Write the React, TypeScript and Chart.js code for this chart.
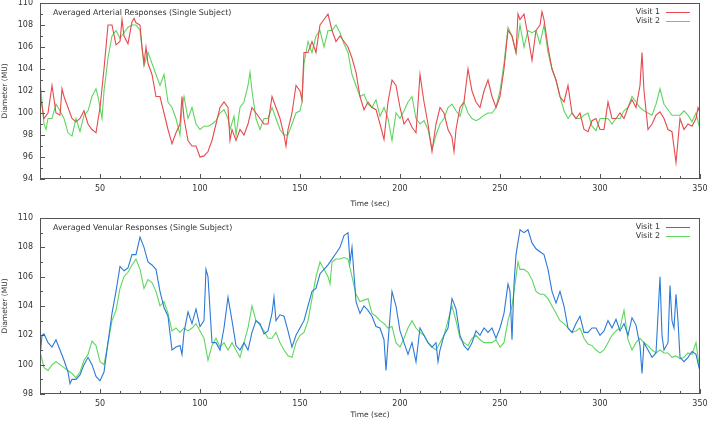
import React, { useEffect, useRef } from 'react';
import { Chart, registerables } from 'chart.js';

Chart.register(...registerables);

// ---------- Tick labels ----------
const xTickValues = [50, 100, 150, 200, 250, 300, 350];
const arterialYTicks = [94, 96, 98, 100, 102, 104, 106, 108, 110];
const venularYTicks = [98, 100, 102, 104, 106, 108, 110];

// ---------- Arterial, Visit 1 ----------
const artV1Time = [20,22,24,26,28,30,31,32,34,36,38,40,42,44,46,48,50,52,54,56,58,60,61,62,64,66,67,68,70,71,72,73,74,76,78,80,82,84,86,88,90,91,92,94,96,98,100,102,104,106,108,110,112,114,115,116,118,120,122,124,126,128,130,132,134,136,138,140,142,143,144,146,148,150,151,152,154,156,158,160,162,164,166,168,170,172,174,176,178,180,182,184,186,188,190,192,194,196,198,200,202,204,206,208,210,212,214,216,218,220,222,224,226,227,228,230,232,234,236,238,240,242,244,246,248,250,252,254,256,258,259,260,262,264,266,268,270,271,272,274,276,278,280,282,284,286,288,290,292,294,296,298,300,302,304,306,308,310,312,314,316,318,320,321,322,324,326,328,330,332,334,336,338,339,340,342,344,346,348,349,350];
const artV1Values = [101.7,99.5,100,102.5,100,99.8,102.2,101.5,100.5,99.5,99.2,99.5,100.2,99,98.5,98.2,100.5,104,108,108,106.2,106.5,108.5,107,106.3,108.3,108.6,108.2,108,106,104.5,106,104.5,103.5,101.5,101.5,100,98.5,97.2,98.2,99,101.5,99.5,97.5,97,97,96,96.1,96.5,97.5,99,100.5,101,100.5,97.5,98.5,97.5,98.5,98,99,100.5,100,99.5,99,99,101.5,100.5,99.5,98,97,98.5,100,102.5,102,101.2,105.5,105.5,106.5,105.5,108,108.5,109,107.5,106.5,107,106.5,106,105,103.7,101.5,100.3,101,100.5,100.3,99,97.6,101,103,102.5,100.5,99,99.5,98.7,98.2,103.5,101,99,96.5,99,100.5,100,98.5,97.8,96.5,98.5,100.5,101,104,102,101,100.5,102,103,101.5,100.5,101.5,104,107.5,107,105.5,109,108.5,109,107,104.8,107.5,108,109.2,108.5,106,104,103,101.5,101,102.5,100,99.5,100,98.5,98.3,99.3,99.5,98.5,98.5,101,99.5,99.5,100,99.5,100.5,101.2,100.5,102.5,105.5,102,98.5,99,99.8,100.1,99.5,98.5,98.3,95.5,97.5,99.5,98.5,99,98.8,99.5,100.5,100];

// ---------- Arterial, Visit 2 ----------
const artV2Time = [20,21,22,23,24,26,28,30,32,34,36,38,40,42,44,46,48,49,50,51,52,54,56,58,60,62,64,66,68,70,72,74,76,78,80,82,84,86,88,90,91,92,94,96,98,100,102,104,106,108,110,112,114,115,117,118,120,122,124,125,126,128,130,132,134,136,138,140,142,144,146,148,150,151,152,154,156,158,160,162,164,166,168,170,172,174,176,178,180,182,184,186,188,190,192,194,196,198,200,202,204,206,208,210,212,214,216,218,220,222,224,226,228,230,232,234,236,238,240,242,244,246,248,250,252,254,256,258,260,262,264,266,268,270,272,274,276,278,280,282,284,286,288,290,292,294,296,298,300,302,304,306,308,310,312,314,316,318,320,322,324,326,328,330,332,334,336,338,340,342,344,346,348,350];
const artV2Values = [103,101,99,98.5,99.5,99.5,100.8,100.2,99.5,98.2,97.9,99.5,98.3,99.8,100.2,101.5,102.2,101.5,100.5,99.5,102,105,107,107.5,106.8,107.3,107.8,108,108,107.5,104.3,105.5,104.5,103.5,102.5,103.5,101,100.5,99.5,98,100.5,101.5,99.5,100.5,99,98.5,98.8,98.8,99,99.3,100,100.3,99.5,98.5,99.7,98,100.5,101,102.5,103.7,102,99.5,98.5,99.5,99.5,100.5,99.5,98.5,98,98,99,100,100.2,101,104.5,106.5,105.5,107,107.5,106,107.5,107.5,108,107.3,106.3,105.5,103.5,102.5,101.5,101.7,100.8,100.5,101.2,99.7,100.5,99.5,97.5,100,99.5,100.2,101,101.5,99.5,99,99.3,98.5,96.7,98,99,99.5,100.5,100.8,100.2,99.7,101,100,99.5,99.3,99.5,99.8,100,100,100.5,102,104.5,107.8,107,105.5,108,106,107.5,107.3,107.5,106.3,108,105.5,104,103,101.5,100.2,99.5,100,99.5,99.5,99.8,100,98.8,98.4,99.5,99.5,99.5,99,99.5,99.5,100.2,100.5,101.5,101,100.5,100.2,100,99.8,100.8,102.2,100.8,100.3,99.8,99.8,99.8,100.2,99.8,99.2,100,98.5];

// ---------- Venular, Visit 1 ----------
const venV1Time = [20,21,22,24,26,28,30,32,34,35,36,38,40,42,44,46,48,50,52,54,56,58,60,62,64,66,68,70,72,74,76,78,80,82,84,86,88,90,91,92,94,96,98,100,102,103,104,106,108,110,112,114,116,118,120,122,124,126,128,130,132,134,136,137,138,140,142,144,146,148,150,152,154,156,158,160,162,164,166,168,170,172,174,175,176,178,180,182,184,186,188,190,192,193,194,196,198,200,202,204,206,208,210,212,214,216,218,219,220,222,224,226,228,230,232,234,236,238,240,242,244,246,248,250,252,254,255,256,257,258,260,262,264,266,268,270,272,274,276,278,280,282,284,286,288,290,292,294,296,298,300,302,304,306,308,310,312,314,316,318,320,321,322,324,326,328,330,331,332,334,335,336,337,338,339,340,342,344,346,348,350];
const venV1Values = [100.5,102,102.1,101.5,101.2,101.7,101,100.3,99.5,98.7,99,99,99.3,100,100.5,100,99.2,98.9,99.5,101.5,103.5,105,106.7,106.4,106.6,107.5,107.5,108.7,108,107,106.8,106.5,105,103.9,103.3,101,101.2,101.3,100.7,102.2,103.6,102.8,103.8,102.6,103,106.5,106,101.5,101.5,101,102.5,104.6,103,101.3,101,101.5,101,102.2,103,102.8,102.1,102.3,103.5,104.6,103,103.4,103.3,102.3,101.2,102,102.5,103,104,105,105.2,106.2,106.5,106.8,107.2,107.6,108,108.8,109,107,108,104.3,103.5,104,103.7,103.3,102.6,102.5,101.7,99.6,101.5,105,104,102.3,101.5,100.7,101.5,100.2,102.5,102,101.5,101.2,101.5,100.2,101,102,102.5,104.5,103.8,102,101.3,101,101.5,102.3,102,102.5,102.2,102.5,101.8,102.5,103.5,105.5,105,101.7,105.5,107.5,109.2,109,109.2,108.3,107.9,107.7,107.5,106.5,105,104.2,105,104,102.5,102.2,102.8,103.3,102.2,102.2,102.5,102.5,102,102.3,103,102.5,103.1,102.3,102.8,102,103.2,102.7,101.3,99.4,101.5,101,100.5,100.8,106,102,101,101.5,105.4,103,102.5,104.8,103,100.5,100.2,100.5,100.9,100.7,99.5];

// ---------- Venular, Visit 2 ----------
const venV2Time = [20,22,24,26,28,30,32,34,36,38,40,42,44,46,48,50,52,54,56,58,60,62,64,66,68,70,72,74,76,78,80,82,84,86,88,90,92,94,96,98,100,102,104,106,108,110,112,114,116,118,120,122,124,126,128,130,132,134,136,138,140,142,144,146,148,150,152,154,156,158,160,162,164,165,166,168,170,172,174,176,178,180,182,184,186,188,190,192,194,196,198,200,202,204,206,208,210,212,214,216,218,220,222,224,226,228,230,232,234,236,238,240,242,244,246,248,250,252,254,256,258,259,260,262,264,266,268,270,272,274,276,278,280,282,284,286,288,290,292,294,296,298,300,302,304,306,308,310,312,314,316,318,320,322,324,326,328,330,332,334,336,338,340,342,344,346,348,350];
const venV2Values = [100.9,99.8,99.6,100,100.2,100,99.8,99.6,99.4,99.1,99.5,100.3,100.7,101.6,101.3,100.2,100,101.5,103,103.7,105.2,106,106.3,106.8,107.2,106.5,105.2,105.8,105.6,105,104,104.3,103.5,102.3,102.5,102.2,102.5,102.3,102.5,102.8,102.3,101.8,100.3,101.3,101.8,101.2,101.5,101,101.5,101,100.5,101.5,102.5,104,103,102.7,102.3,101.8,101.8,102.2,101.5,101,100.6,100.5,101.5,102,102.2,103,104.5,106,107,106.5,106,105.5,107,107.2,107.2,107.3,107.2,106,104.8,104.3,104.4,104.5,103.5,103.3,103,102.8,102.5,102.6,101.5,101.2,101.8,102.5,103,102.5,102.2,102,101.5,101.2,101,101.5,102,103,104,103,101.8,101.5,101.3,101.8,102,101.7,101.5,101.5,101.5,101.7,101.2,101.5,103,104,106,107,106.5,106.5,106.3,105.8,105,104.8,104.8,104.5,104,103.5,103,102.8,102.5,102.2,102.3,102.5,101.8,101.4,101.3,101,100.8,101,101.5,102,102.3,102.5,103.7,101.7,101,101.5,101.8,101.5,101.3,101,100.8,101,100.8,100.8,100.5,100.6,100.4,100.5,100.8,100.7,101.5,99.5];

const seriesLabels = ['Visit 1', 'Visit 2'];
const RED = '#e6494e';
const GREEN = '#5fd65f';
const BLUE = '#2b7ad6';
const FONT = 'DejaVu Sans';
const TEXT = '#333';
const FRAME = '#555';

const zip = (t: number[], v: number[]) => t.map((x, i) => ({ x, y: v[i] }));

const decoPlugin = {
  id: 'panelDeco',
  afterDatasetsDraw(chart: any, _args: any, opts: any) {
    const { ctx, chartArea } = chart;
    const { left, right, top, bottom } = chartArea;
    const xs = chart.scales.x;
    const ys = chart.scales.y;
    ctx.save();
    ctx.strokeStyle = FRAME;
    ctx.lineWidth = 1;
    ctx.strokeRect(Math.round(left) + 0.5, Math.round(top) + 0.5, Math.round(right - left) - 1, Math.round(bottom - top) - 1);
    ctx.beginPath();
    for (let v = xs.min; v <= xs.max; v += 10) {
      const px = Math.round(xs.getPixelForValue(v)) + 0.5;
      const len = v % 50 === 0 ? 5 : 3;
      ctx.moveTo(px, bottom);
      ctx.lineTo(px, bottom - len);
    }
    for (let v = ys.min; v <= ys.max; v += 1) {
      const py = Math.round(ys.getPixelForValue(v)) + 0.5;
      const len = v % 2 === 0 ? 5 : 3;
      ctx.moveTo(left, py);
      ctx.lineTo(left + len, py);
    }
    ctx.stroke();
    ctx.fillStyle = TEXT;
    ctx.font = `7.9px "${FONT}"`;
    ctx.textBaseline = 'middle';
    ctx.textAlign = 'left';
    ctx.fillText(opts.title, left + 13, top + 9.5);
    chart.data.datasets.forEach((ds: any, i: number) => {
      const y = top + 8.5 + i * 9.5;
      ctx.fillStyle = TEXT;
      ctx.textAlign = 'right';
      ctx.fillText(ds.label, right - 40, y);
      ctx.strokeStyle = ds.borderColor;
      ctx.beginPath();
      ctx.moveTo(right - 34, Math.round(y) + 0.5);
      ctx.lineTo(right - 10, Math.round(y) + 0.5);
      ctx.stroke();
    });
    ctx.restore();
  },
};

type PanelProps = {
  title: string;
  yTicks: number[];
  series: { label: string; color: string; data: { x: number; y: number }[] }[];
  top: number;
  padTop: number;
  xAxisHeight: number;
};

function Panel({ title, yTicks, series, top, padTop, xAxisHeight }: PanelProps) {
  const ref = useRef<HTMLCanvasElement>(null);
  useEffect(() => {
    if (!ref.current) return;
    const font = { family: FONT, size: 8 };
    const chart = new Chart(ref.current, {
      type: 'line',
      data: {
        datasets: series.map((s) => ({
          label: s.label,
          data: s.data,
          borderColor: s.color,
          backgroundColor: s.color,
          borderWidth: 1.1,
          pointRadius: 0,
          tension: 0,
          fill: false,
        })),
      },
      options: {
        responsive: false,
        animation: false,
        parsing: false,
        layout: { padding: { left: 0, right: 9, top: padTop, bottom: 0 } },
        plugins: {
          legend: { display: false },
          tooltip: { enabled: false },
          panelDeco: { title },
        } as any,
        scales: {
          x: {
            type: 'linear',
            min: 20,
            max: 350,
            grid: { display: false, drawTicks: false },
            border: { display: false },
            ticks: { font, color: TEXT, padding: 5, maxRotation: 0, autoSkip: false },
            afterBuildTicks: (s: any) => {
              s.ticks = xTickValues.map((v) => ({ value: v }));
            },
            afterFit: (s: any) => {
              s.height = xAxisHeight;
              s.paddingLeft = 0;
              s.paddingRight = 0;
            },
            title: { display: true, text: 'Time (sec)', font: { family: FONT, size: 7.5 }, color: TEXT, padding: { top: 0, bottom: 2 } },
          },
          y: {
            type: 'linear',
            min: yTicks[0],
            max: yTicks[yTicks.length - 1],
            grid: { display: false, drawTicks: false },
            border: { display: false },
            ticks: { font, color: TEXT, padding: 7, autoSkip: false },
            afterBuildTicks: (s: any) => {
              s.ticks = yTicks.map((v) => ({ value: v }));
            },
            afterFit: (s: any) => {
              s.width = 40;
              s.paddingTop = 0;
              s.paddingBottom = 0;
            },
            title: { display: true, text: 'Diameter (MU)', font: { family: FONT, size: 7.5 }, color: TEXT, padding: { top: 1, bottom: 0 } },
          },
        },
      } as any,
      plugins: [decoPlugin],
    });
    return () => chart.destroy();
  }, []);
  return (
    <canvas
      ref={ref}
      width={709}
      height={211}
      style={{ position: 'absolute', left: 0, top, width: 709, height: 211 }}
    />
  );
}

export default function App() {
  return (
    <div style={{ position: 'fixed', left: 0, top: 0, width: 709, height: 422, background: '#fff' }}>
      <Panel
        title="Averaged Arterial Responses (Single Subject)"
        yTicks={arterialYTicks}
        top={0}
        padTop={3}
        xAxisHeight={32}
        series={[
          { label: seriesLabels[0], color: RED, data: zip(artV1Time, artV1Values) },
          { label: seriesLabels[1], color: GREEN, data: zip(artV2Time, artV2Values) },
        ]}
      />
      <Panel
        title="Averaged Venular Responses (Single Subject)"
        yTicks={venularYTicks}
        top={211}
        padTop={7}
        xAxisHeight={28}
        series={[
          { label: seriesLabels[0], color: BLUE, data: zip(venV1Time, venV1Values) },
          { label: seriesLabels[1], color: GREEN, data: zip(venV2Time, venV2Values) },
        ]}
      />
    </div>
  );
}
